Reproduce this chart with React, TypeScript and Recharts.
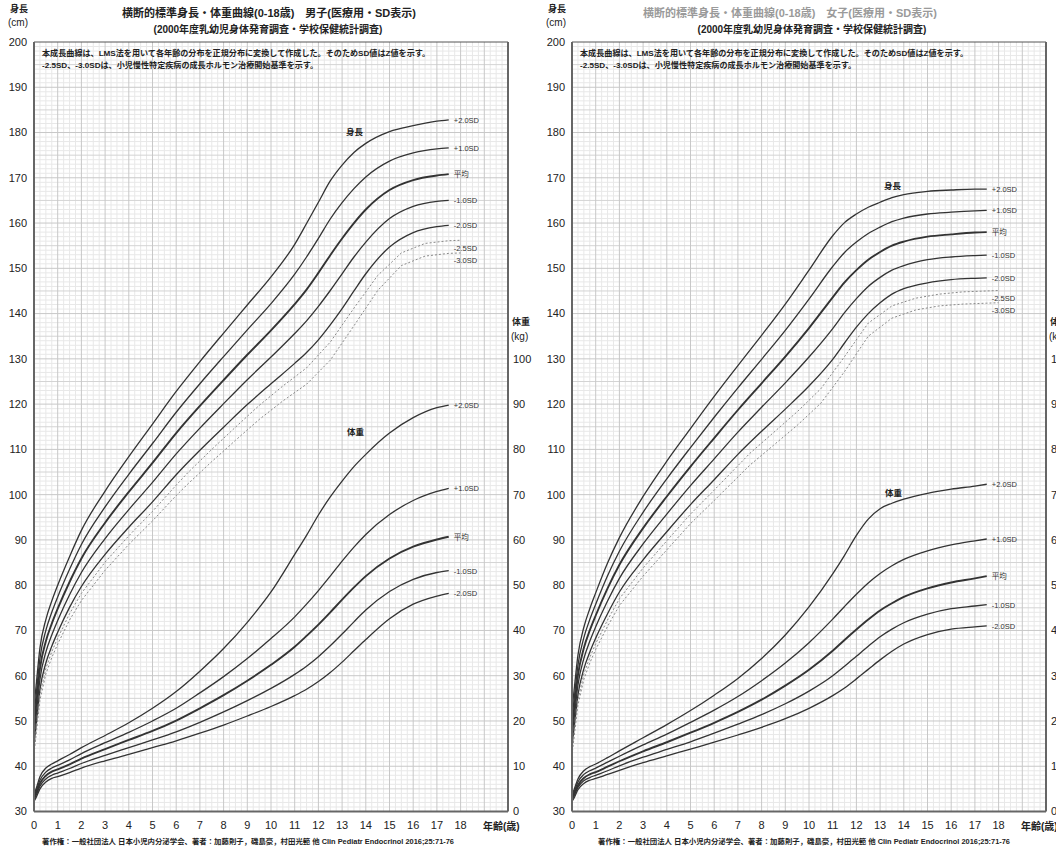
import React from "react";
import { LineChart, Line, XAxis, YAxis, ReferenceLine } from "recharts";

const FONT = '"Liberation Sans", "Noto Sans CJK JP", Arial, sans-serif';

// ages (years) for the smooth curves; dotted curves use school-age points
const AGES = [0, 0.1, 0.25, 0.5, 0.75, 1, 1.5, 2, 3, 4, 5, 6, 7, 8, 9, 10, 11, 11.5, 12, 12.5, 13, 13.5, 14, 15, 16, 17, 17.5];
const DOT_AGES = [0, 0.1, 0.25, 0.5, 0.75, 1, 1.5, 2, 3, 4, 5, 6, 6.5, 7.5, 8.5, 9.5, 10.5, 11.5, 12.5, 13.5, 14.5, 15.5, 16.5, 17.5, 18];

const X_TICKS = [0, 1, 2, 3, 4, 5, 6, 7, 8, 9, 10, 11, 12, 13, 14, 15, 16, 17, 18];
const H_TICKS = [30, 40, 50, 60, 70, 80, 90, 100, 110, 120, 130, 140, 150, 160, 170, 180, 190, 200];
const W_TICKS = [0, 10, 20, 30, 40, 50, 60, 70, 80, 90, 100];

// boys height (cm)
const BOY_H_P2 = [53.2, 58.4, 66.1, 72.4, 76.5, 80.0, 86.3, 92.1, 100.8, 108.4, 115.6, 122.8, 129.4, 135.7, 141.9, 148.1, 155.3, 159.9, 164.6, 169.3, 172.8, 175.6, 177.6, 180.2, 181.5, 182.5, 182.8];
const BOY_H_P1 = [51.1, 56.2, 63.8, 70.0, 74.0, 77.4, 83.5, 89.0, 97.3, 104.5, 111.3, 118.2, 124.5, 130.5, 136.4, 142.2, 148.7, 152.5, 156.6, 160.9, 164.5, 167.6, 170.2, 173.7, 175.5, 176.4, 176.6];
const BOY_H_MEAN = [49.0, 54.0, 61.5, 67.6, 71.5, 74.8, 80.7, 85.9, 93.8, 100.6, 107.0, 113.6, 119.6, 125.3, 130.9, 136.3, 142.1, 145.3, 149.0, 152.9, 156.6, 160.0, 163.0, 167.3, 169.5, 170.5, 170.8];
const BOY_H_M1 = [46.9, 51.8, 59.2, 65.2, 69.0, 72.2, 77.9, 82.8, 90.3, 96.7, 102.7, 109.0, 114.7, 120.1, 125.4, 130.4, 135.6, 138.4, 141.6, 145.1, 148.8, 152.5, 155.8, 161.0, 163.7, 164.8, 165.0];
const BOY_H_M2 = [44.8, 49.6, 56.9, 62.8, 66.5, 69.6, 75.1, 79.7, 86.8, 92.8, 98.4, 104.4, 109.8, 114.9, 119.9, 124.5, 129.0, 131.4, 134.2, 137.5, 141.1, 145.0, 148.8, 154.7, 157.9, 159.2, 159.5];
const BOY_H_M25 = [43.8, 48.5, 55.7, 61.6, 65.3, 68.3, 73.7, 78.2, 85.1, 90.9, 96.3, 102.1, 104.9, 110.0, 114.9, 119.7, 124.0, 128.0, 133.7, 141.2, 148.4, 153.4, 155.5, 156.1, 156.2];
const BOY_H_M3 = [42.7, 47.4, 54.6, 60.4, 64.0, 67.0, 72.3, 76.6, 83.3, 89.0, 94.2, 99.8, 102.4, 107.3, 112.0, 116.6, 120.7, 124.4, 129.7, 137.3, 145.1, 150.6, 152.7, 153.3, 153.4];

// boys weight (kg)
const BOY_W_P2 = [3.8, 5.2, 7.7, 9.6, 10.5, 11.2, 12.6, 14.1, 16.8, 19.6, 22.8, 26.5, 31.0, 36.0, 41.8, 48.5, 56.8, 61.0, 65.5, 69.5, 73.0, 76.2, 78.9, 83.6, 87.0, 89.2, 89.8];
const BOY_W_P1 = [3.4, 4.7, 6.9, 8.7, 9.6, 10.2, 11.4, 12.8, 15.2, 17.5, 20.0, 22.8, 26.2, 29.8, 33.8, 38.2, 43.0, 45.8, 48.8, 52.0, 55.3, 58.4, 61.2, 65.6, 68.7, 70.7, 71.4];
const BOY_W_MEAN = [3.0, 4.2, 6.2, 7.9, 8.8, 9.3, 10.4, 11.7, 13.8, 15.8, 17.8, 20.1, 22.8, 25.7, 28.9, 32.4, 36.4, 38.8, 41.3, 44.0, 46.8, 49.5, 52.0, 55.9, 58.5, 60.1, 60.7];
const BOY_W_M1 = [2.6, 3.7, 5.6, 7.2, 8.0, 8.5, 9.5, 10.6, 12.4, 14.1, 15.8, 17.6, 19.7, 22.0, 24.5, 27.2, 30.3, 32.1, 34.2, 36.6, 39.2, 41.9, 44.5, 48.6, 51.3, 52.8, 53.2];
const BOY_W_M2 = [2.2, 3.2, 5.0, 6.5, 7.3, 7.7, 8.6, 9.6, 11.2, 12.6, 14.1, 15.6, 17.3, 19.1, 21.1, 23.2, 25.6, 27.0, 28.7, 30.7, 33.0, 35.5, 38.0, 42.6, 45.8, 47.6, 48.2];

// girls height (cm)
const GIRL_H_P2 = [52.5, 57.4, 64.5, 70.7, 74.8, 78.3, 84.9, 90.5, 99.6, 107.4, 114.6, 121.7, 128.5, 135.2, 142.1, 149.6, 157.2, 160.1, 162.0, 163.5, 164.6, 165.6, 166.3, 167.0, 167.3, 167.5, 167.5];
const GIRL_H_P1 = [50.5, 55.3, 62.3, 68.4, 72.4, 75.8, 82.1, 87.5, 96.1, 103.5, 110.4, 117.1, 123.6, 129.9, 136.3, 143.2, 150.4, 153.5, 155.8, 157.7, 159.1, 160.3, 161.1, 162.0, 162.4, 162.7, 162.8];
const GIRL_H_MEAN = [48.5, 53.2, 60.1, 66.1, 70.0, 73.3, 79.3, 84.5, 92.6, 99.6, 106.2, 112.5, 118.7, 124.6, 130.5, 136.8, 143.6, 146.9, 149.6, 151.9, 153.6, 155.0, 155.9, 157.0, 157.5, 157.9, 158.0];
const GIRL_H_M1 = [46.5, 51.1, 57.9, 63.8, 67.6, 70.8, 76.5, 81.5, 89.1, 95.7, 102.0, 107.9, 113.8, 119.3, 124.7, 130.4, 136.7, 140.2, 143.3, 146.0, 148.0, 149.6, 150.6, 151.9, 152.5, 152.8, 152.9];
const GIRL_H_M2 = [44.5, 49.0, 55.7, 61.5, 65.2, 68.3, 73.7, 78.5, 85.6, 91.8, 97.8, 103.3, 108.9, 114.0, 118.9, 124.0, 129.9, 133.5, 137.0, 140.0, 142.4, 144.3, 145.5, 146.8, 147.5, 147.8, 147.9];
const GIRL_H_M25 = [43.5, 47.9, 54.6, 60.4, 64.0, 67.1, 72.3, 77.0, 83.8, 89.8, 95.7, 101.0, 103.7, 109.1, 113.7, 118.3, 123.4, 130.5, 137.9, 141.7, 143.4, 144.3, 144.8, 145.0, 145.1];
const GIRL_H_M3 = [42.5, 46.9, 53.5, 59.2, 62.8, 65.8, 70.9, 75.5, 82.0, 87.8, 93.6, 98.7, 101.3, 106.5, 110.9, 115.3, 120.2, 127.2, 135.0, 139.0, 140.8, 141.7, 142.1, 142.3, 142.4];

// girls weight (kg)
const GIRL_W_P2 = [3.7, 5.0, 7.2, 9.0, 9.9, 10.5, 11.9, 13.4, 16.3, 19.2, 22.3, 25.7, 29.4, 33.8, 39.0, 45.2, 52.5, 56.6, 61.0, 64.6, 66.9, 68.1, 69.0, 70.3, 71.2, 71.9, 72.3];
const GIRL_W_P1 = [3.3, 4.5, 6.5, 8.2, 9.0, 9.6, 10.9, 12.2, 14.7, 17.1, 19.7, 22.4, 25.4, 28.9, 32.8, 37.3, 42.5, 45.3, 48.0, 50.5, 52.6, 54.3, 55.7, 57.6, 58.9, 59.8, 60.2];
const GIRL_W_MEAN = [3.0, 4.0, 5.8, 7.4, 8.2, 8.7, 9.9, 11.1, 13.3, 15.3, 17.4, 19.6, 22.0, 24.7, 27.8, 31.3, 35.5, 37.9, 40.2, 42.4, 44.4, 46.0, 47.4, 49.3, 50.6, 51.5, 52.0];
const GIRL_W_M1 = [2.6, 3.6, 5.3, 6.8, 7.5, 8.0, 9.0, 10.1, 12.0, 13.7, 15.4, 17.3, 19.3, 21.4, 23.8, 26.6, 30.0, 32.1, 34.3, 36.5, 38.6, 40.3, 41.7, 43.6, 44.8, 45.4, 45.7];
const GIRL_W_M2 = [2.2, 3.1, 4.8, 6.2, 6.9, 7.3, 8.2, 9.1, 10.8, 12.3, 13.8, 15.3, 16.9, 18.6, 20.5, 22.8, 25.6, 27.3, 29.3, 31.4, 33.5, 35.4, 37.0, 39.1, 40.3, 40.8, 41.0];

const NOTE1 = "本成長曲線は、LMS法を用いて各年齢の分布を正規分布に変換して作成した。そのためSD値はZ値を示す。";
const NOTE2 = "-2.5SD、-3.0SDは、小児慢性特定疾病の成長ホルモン治療開始基準を示す。";
const CREDIT = "著作権：一般社団法人 日本小児内分泌学会、著者：加藤則子，磯島豪，村田光範 他 Clin Pediatr Endocrinol 2016;25:71-76";

const toRows = (ages: number[], vals: number[]) => ages.map((age, i) => ({ age, v: vals[i] }));

// grid positions
const range = (a: number, b: number, s: number) => {
  const out: number[] = [];
  for (let v = a; v <= b + 1e-9; v += s) out.push(Math.round(v * 100) / 100);
  return out;
};
const GRID_Y_MINOR = range(31, 199, 1).filter((v) => v % 5 !== 0);
const GRID_Y_MID = range(35, 195, 10);
const GRID_Y_MAJOR = range(40, 190, 10);
const GRID_X_MINOR = range(0.25, 19.75, 0.25).filter((v) => v % 1 !== 0);
const GRID_X_MAJOR = range(1, 19, 1);

type Curve = { label: string; vals: number[]; dotted?: boolean; bold?: boolean };

const endLabel = (text: string, last: number, dy: number) => (p: any) =>
  p.index === last ? (
    <text x={p.x + 5} y={p.y + dy} fontSize={7.5} fill="#333" fontFamily={FONT}>
      {text}
    </text>
  ) : null;

function Panel({ heights, weights }: { heights: Curve[]; weights: Curve[] }) {
  return (
    <LineChart width={536} height={853} margin={{ top: 42, right: 0, bottom: 0, left: 0 }}>
      {GRID_X_MINOR.map((v) => (
        <ReferenceLine key={"xm" + v} x={v} yAxisId="h" stroke="#e8e8e8" strokeWidth={1} />
      ))}
      {GRID_Y_MINOR.map((v) => (
        <ReferenceLine key={"ym" + v} y={v} yAxisId="h" stroke="#e8e8e8" strokeWidth={1} />
      ))}
      {GRID_Y_MID.map((v) => (
        <ReferenceLine key={"yd" + v} y={v} yAxisId="h" stroke="#d4d4d4" strokeWidth={1} />
      ))}
      {GRID_X_MAJOR.map((v) => (
        <ReferenceLine key={"xj" + v} x={v} yAxisId="h" stroke="#c8c8c8" strokeWidth={1} />
      ))}
      {GRID_Y_MAJOR.map((v) => (
        <ReferenceLine key={"yj" + v} y={v} yAxisId="h" stroke="#c8c8c8" strokeWidth={1} />
      ))}
      <ReferenceLine y={200} yAxisId="h" stroke="#555" strokeWidth={1} />
      <XAxis
        type="number"
        dataKey="age"
        domain={[0, 20]}
        ticks={X_TICKS}
        interval={0}
        height={41.5}
        tickSize={0}
        tickMargin={10}
        axisLine={{ stroke: "#666", strokeWidth: 2 }}
        tick={{ fontSize: 11, fill: "#222", fontFamily: FONT }}
      />
      <YAxis
        yAxisId="h"
        type="number"
        domain={[30, 200]}
        ticks={H_TICKS}
        interval={0}
        width={34}
        tickSize={0}
        tickMargin={7}
        axisLine={{ stroke: "#666", strokeWidth: 2 }}
        tick={{ fontSize: 11, fill: "#222", fontFamily: FONT }}
      />
      <YAxis
        yAxisId="w"
        orientation="right"
        type="number"
        domain={[0, 170]}
        ticks={W_TICKS}
        interval={0}
        width={28}
        tickSize={0}
        tickMargin={5}
        axisLine={{ stroke: "#666", strokeWidth: 2 }}
        tick={{ fontSize: 11, fill: "#222", fontFamily: FONT }}
      />
      {heights.map((c) => {
        const ages = c.dotted ? DOT_AGES : AGES;
        const last = c.dotted ? DOT_AGES.length - 2 : AGES.length - 1;
        return (
          <Line
            key={"h" + c.label}
            yAxisId="h"
            data={toRows(ages, c.vals)}
            dataKey="v"
            type={c.dotted ? "linear" : "monotone"}
            stroke={c.dotted ? "#8a8a8a" : "#333"}
            strokeWidth={c.dotted ? 1 : c.bold ? 1.9 : 1.3}
            strokeDasharray={c.dotted ? "2 2" : undefined}
            dot={false}
            isAnimationActive={false}
            label={endLabel(c.label, last, c.dotted ? 10 : 3)}
          />
        );
      })}
      {weights.map((c) => (
        <Line
          key={"w" + c.label}
          yAxisId="w"
          data={toRows(AGES, c.vals)}
          dataKey="v"
          type="monotone"
          stroke="#333"
          strokeWidth={c.bold ? 1.9 : 1.3}
          dot={false}
          isAnimationActive={false}
          label={endLabel(c.label, AGES.length - 1, 3)}
        />
      ))}
    </LineChart>
  );
}

const abs = (x: number, y: number, extra: React.CSSProperties = {}): React.CSSProperties => ({
  position: "absolute",
  left: x,
  top: y,
  fontFamily: FONT,
  color: "#222",
  whiteSpace: "nowrap",
  lineHeight: 1,
  ...extra,
});

type TextProps = {
  ox: number;
  title: string;
  titleColor: string;
  titleX: number;
  subX: number;
  creditX: number;
  hLabelY: number;
  wLabelY: number;
};

function Texts({ ox, title, titleColor, titleX, subX, creditX, hLabelY, wLabelY }: TextProps) {
  return (
    <>
      <div style={abs(ox + 10, 5, { fontSize: 9, fontWeight: "bold" })}>身長</div>
      <div style={abs(ox + 8, 18, { fontSize: 10 })}>(cm)</div>
      <div style={abs(titleX, 8, { fontSize: 11, fontWeight: "bold", color: titleColor, transform: "translateX(-50%)" })}>{title}</div>
      <div style={abs(subX, 25, { fontSize: 10, fontWeight: "bold", transform: "translateX(-50%)" })}>
        (2000年度乳幼児身体発育調査・学校保健統計調査)
      </div>
      <div style={abs(ox + 42, 50, { fontSize: 8.1, fontWeight: "bold" })}>{NOTE1}</div>
      <div style={abs(ox + 42, 62, { fontSize: 8.1, fontWeight: "bold" })}>{NOTE2}</div>
      <div style={abs(ox + 346, hLabelY, { fontSize: 8.5, fontWeight: "bold" })}>身長</div>
      <div style={abs(ox + 347, wLabelY, { fontSize: 8.5, fontWeight: "bold" })}>体重</div>
      <div style={abs(ox + 512, 318, { fontSize: 9, fontWeight: "bold" })}>体重</div>
      <div style={abs(ox + 511, 332, { fontSize: 10 })}>(kg)</div>
      <div style={abs(ox + 483, 822, { fontSize: 10, fontWeight: "bold" })}>年齢(歳)</div>
      <div style={abs(creditX, 838, { fontSize: 7.4, fontWeight: "bold", transform: "translateX(-50%)" })}>{CREDIT}</div>
    </>
  );
}

export default function App() {
  const boyH: Curve[] = [
    { label: "+2.0SD", vals: BOY_H_P2 },
    { label: "+1.0SD", vals: BOY_H_P1 },
    { label: "平均", vals: BOY_H_MEAN, bold: true },
    { label: "-1.0SD", vals: BOY_H_M1 },
    { label: "-2.0SD", vals: BOY_H_M2 },
    { label: "-2.5SD", vals: BOY_H_M25, dotted: true },
    { label: "-3.0SD", vals: BOY_H_M3, dotted: true },
  ];
  const boyW: Curve[] = [
    { label: "+2.0SD", vals: BOY_W_P2 },
    { label: "+1.0SD", vals: BOY_W_P1 },
    { label: "平均", vals: BOY_W_MEAN, bold: true },
    { label: "-1.0SD", vals: BOY_W_M1 },
    { label: "-2.0SD", vals: BOY_W_M2 },
  ];
  const girlH: Curve[] = [
    { label: "+2.0SD", vals: GIRL_H_P2 },
    { label: "+1.0SD", vals: GIRL_H_P1 },
    { label: "平均", vals: GIRL_H_MEAN, bold: true },
    { label: "-1.0SD", vals: GIRL_H_M1 },
    { label: "-2.0SD", vals: GIRL_H_M2 },
    { label: "-2.5SD", vals: GIRL_H_M25, dotted: true },
    { label: "-3.0SD", vals: GIRL_H_M3, dotted: true },
  ];
  const girlW: Curve[] = [
    { label: "+2.0SD", vals: GIRL_W_P2 },
    { label: "+1.0SD", vals: GIRL_W_P1 },
    { label: "平均", vals: GIRL_W_MEAN, bold: true },
    { label: "-1.0SD", vals: GIRL_W_M1 },
    { label: "-2.0SD", vals: GIRL_W_M2 },
  ];
  return (
    <div style={{ position: "absolute", left: 0, top: 0, width: 1056, height: 853, overflow: "hidden", background: "#fff" }}>
      <div style={{ position: "absolute", left: 0, top: 0 }}>
        <Panel heights={boyH} weights={boyW} />
      </div>
      <div style={{ position: "absolute", left: 538, top: 0 }}>
        <Panel heights={girlH} weights={girlW} />
      </div>
      <Texts
        ox={0}
        title="横断的標準身長・体重曲線(0-18歳)　男子(医療用・SD表示)"
        titleColor="#222"
        titleX={269}
        subX={268}
        creditX={248}
        hLabelY={128}
        wLabelY={428}
      />
      <Texts
        ox={538}
        title="横断的標準身長・体重曲線(0-18歳)　女子(医療用・SD表示)"
        titleColor="#9a9a9a"
        titleX={790}
        subX={812}
        creditX={804}
        hLabelY={182}
        wLabelY={489}
      />
    </div>
  );
}
